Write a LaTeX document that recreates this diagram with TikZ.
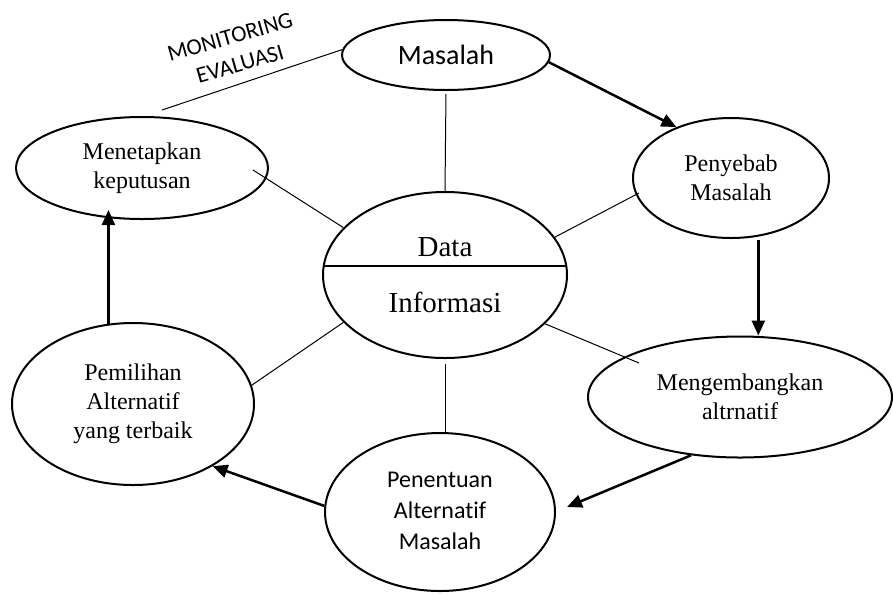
\documentclass[tikz,border=0pt]{standalone}
\usepackage{fontspec}
\setmainfont{Liberation Serif}
\newfontfamily\calibri[Ligatures=NoCommon]{Carlito}
\usetikzlibrary{shapes.geometric,arrows.meta,calc}
\begin{document}
\begin{tikzpicture}[x=1pt,y=-1pt,
 ell/.style={draw,ellipse,line width=2pt,inner sep=0pt,align=center},
 spoke/.style={line width=1pt},
 arr/.style={line width=2.5pt,-{Triangle[length=15pt,width=13pt]}},
 serifA/.style={font=\fontsize{24}{29}\selectfont},
 sansA/.style={font=\calibri\fontsize{24}{31}\selectfont},
 serifB/.style={font=\fontsize{29}{34}\selectfont},
 rottext/.style={font=\calibri\fontsize{23}{26}\selectfont,rotate=16}]
\useasboundingbox (0,0) rectangle (893,598);

\node[ell, minimum width=208pt, minimum height=70pt, font=\calibri\fontsize{28}{32}\selectfont] (mas) at (446,55) {Masalah};
\node[ell, serifA, minimum width=252pt, minimum height=102pt] (mene) at (142,168) {Menetapkan\\keputusan};
\node[ell, serifA, minimum width=196pt, minimum height=120pt] (peny) at (731,178) {Penyebab\\Masalah};
\node[ell, minimum width=244pt, minimum height=166pt] (data) at (445,275) {};
\node[serifB] (datat) at (445,247) {Data};
\node[serifB] (info) at (445,302) {Informasi};
\node[ell, serifA, minimum width=304pt, minimum height=121pt] (meng) at (740,397) {Mengembangkan\\altrnatif};
\node[ell, sansA, minimum width=230pt, minimum height=158pt] (pent) at (440,512) {\raisebox{-4pt}{\begin{tabular}{@{}c@{}}Penentuan\\Alternatif\\Masalah\end{tabular}}};
\node[ell, serifA, minimum width=242pt, minimum height=162pt] (pemi) at (133,404) {Pemilihan\\Alternatif\\yang terbaik};

\node[rottext] (moni) at (230,37) {MONITORING};
\node[rottext] (eval) at (240,64) {EVALUASI};

% divider in data ellipse
\coordinate (dl) at ($(data.center)+(-121.3,-9)$);
\coordinate (dr) at ($(data.center)+(121.3,-9)$);
\draw[line width=1.5pt] (dl) -- (dr);

% arrows
\draw[arr] (mas.-4) -- (peny.137);
\draw[arr] ([yshift=-3pt]peny.-65) -- (peny.-65 |- meng.north);
\coordinate (ptip) at ($(pent.east)+(11,-5)$);
\draw[arr] (meng.-130) -- (ptip);
\draw[arr] (pent.177) -- (pemi.-38);
\coordinate (mtip0) at (pemi.107 |- mene.south);
\coordinate (mtip) at ($(mtip0)+(0,-10)$);
\draw[arr] (pemi.107) -- (mtip);

% spokes
\coordinate (s1) at ($(mene.center)+(111,2)$);
\coordinate (s2) at ($(peny.center)+(-92,15)$);
\coordinate (s3) at ($(meng.center)+(-101,-34)$);
\coordinate (mon) at (162,110);
\draw[spoke, shorten <=3pt] (mas.south) -- (data.north);
\draw[spoke] (data.155) -- (s1);
\draw[spoke] (data.19) -- (s2);
\draw[spoke] (data.-26) -- (s3);
\draw[spoke, shorten <=5pt] (data.south) -- (data.south |- pent.north);
\draw[spoke] (data.205) -- (pemi.9);
\draw[spoke] (mas.177) -- (mon);
\end{tikzpicture}
\end{document}
